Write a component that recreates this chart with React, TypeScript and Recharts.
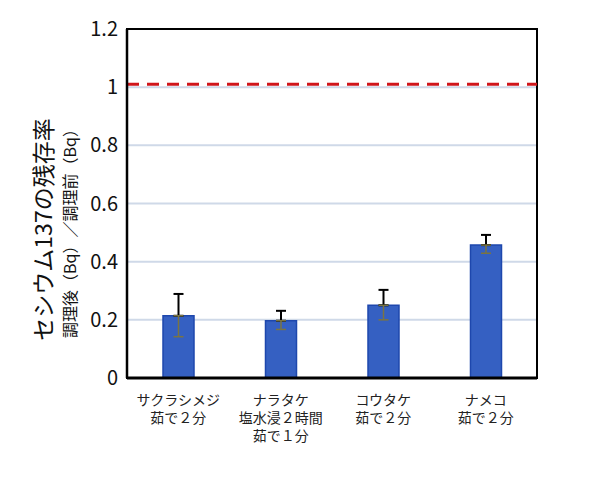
import { Bar, BarChart, CartesianGrid, ErrorBar, ReferenceArea, ReferenceLine, XAxis, YAxis } from "recharts"

const categories = ["サクラシメジ\n茹で２分", "ナラタケ\n塩水浸２時間\n茹で１分", "コウタケ\n茹で２分", "ナメコ\n茹で２分"]
const ratio = [0.214, 0.197, 0.25, 0.457]
const errUp = [0.075, 0.034, 0.053, 0.035]
const errDown = [0.072, 0.03, 0.05, 0.028]
const yTicks = [0, 0.2, 0.4, 0.6, 0.8, 1, 1.2]

const data = categories.map((name, i) => ({
  name,
  value: ratio[i],
  up: [0, errUp[i]],
  down: [errDown[i], 0],
}))

const font = "'Noto Sans CJK JP', 'Noto Sans', sans-serif"

function CategoryTick({ x, y, payload }: any) {
  const lines = String(payload.value).split("\n")
  return (
    <text x={x} y={y} textAnchor="middle" fontFamily={font} fontSize={14} fill="#222">
      {lines.map((l, i) => (
        <tspan key={i} x={x} dy={i === 0 ? 19 : 18}>
          {l}
        </tspan>
      ))}
    </text>
  )
}

function YLabel({ viewBox }: any) {
  const cy = viewBox.y + viewBox.height / 2 + 26
  return (
    <g fontFamily={font}>
      <text x={42} y={cy} transform={`rotate(-90 42 ${cy})`} textAnchor="middle" dominantBaseline="central" fontSize={23} fill="#111">
        セシウム137の残存率
      </text>
      <text x={69} y={cy} transform={`rotate(-90 69 ${cy})`} textAnchor="middle" dominantBaseline="central" fontSize={16} fill="#111">
        調理後（Bq）／調理前（Bq）
      </text>
    </g>
  )
}

export default function App() {
  return (
    <div style={{ position: "absolute", left: 0, top: 0, width: 600, height: 480, background: "#fff" }}>
      <BarChart width={600} height={480} data={data} margin={{ top: 29, right: 63, left: 0, bottom: 0 }}>
        <CartesianGrid vertical={false} stroke="#cfd9e8" strokeWidth={2} />
        <XAxis
          dataKey="name"
          height={102}
          tick={<CategoryTick />}
          tickLine={false}
          axisLine={{ stroke: "#000", strokeWidth: 3 }}
          interval={0}
        />
        <YAxis
          width={127}
          domain={[0, 1.2]}
          ticks={yTicks}
          tickLine={false}
          tickMargin={3}
          axisLine={{ stroke: "#000", strokeWidth: 2.5 }}
          tick={{ fontSize: 20, fill: "#111", fontFamily: font }}
          label={<YLabel />}
        />
        <ReferenceArea y1={0} y2={1.2} fill="none" stroke="#000" strokeWidth={2} ifOverflow="visible" />
        <ReferenceLine y={1.01} stroke="#d0161b" strokeWidth={3} strokeDasharray="12 8" />
        <Bar dataKey="value" barSize={31} fill="#3560c2" stroke="#1e47ad" strokeWidth={1.5} isAnimationActive={false}>
          <ErrorBar dataKey="up" width={5} stroke="#000" strokeWidth={2} />
          <ErrorBar dataKey="down" width={5} stroke="#7a7442" strokeWidth={1.5} />
        </Bar>
      </BarChart>
    </div>
  )
}
